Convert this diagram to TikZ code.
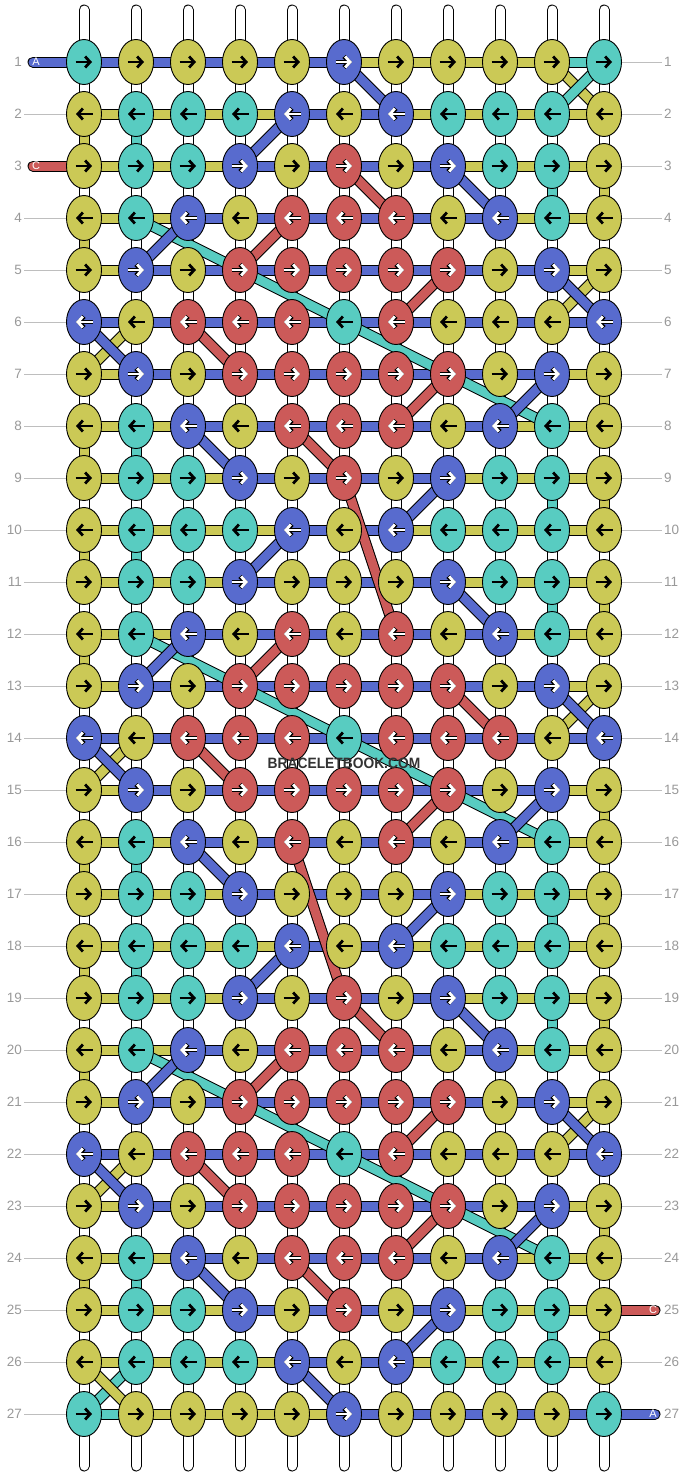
\documentclass[tikz,border=0pt]{standalone}
\usepackage{fontspec}
\setmainfont{Liberation Sans}
\usetikzlibrary{shapes.geometric,arrows.meta,backgrounds}
\definecolor{cY}{RGB}{203,201,86}
\definecolor{cT}{RGB}{88,204,193}
\definecolor{cB}{RGB}{88,107,206}
\definecolor{cR}{RGB}{204,90,89}
\definecolor{lblgray}{RGB}{153,153,153}
\definecolor{linegray}{RGB}{190,190,190}
\tikzset{
  knot/.style={ellipse, draw=black, line width=0.9pt, minimum width=35pt, minimum height=45pt, inner sep=0pt},
  arrbase/.style={line width=2.8pt, -{Straight Barb[length=5pt,width=11pt]}},
  arrY/.style={arrbase, draw=black},
  arrT/.style={arrbase, draw=black},
  arrB/.style={arrbase, draw=white, preaction={draw=black, line width=4.4pt}},
  arrR/.style={arrB},
  lbl/.style={font=\fontsize{13.5}{13.5}\selectfont, text=lblgray, inner sep=2pt},
  gline/.style={draw=linegray, line width=1pt},
  stubtxt/.style={font=\fontsize{11}{11}\selectfont, text=white, inner sep=0pt},
}
\newcommand\strandband[3]{%
  \draw[black, line width=11pt] (#2) -- (#3);
  \draw[#1, line width=9pt] (#2) -- (#3);}
\def\nodedata{%
{T,Y,Y,Y,Y,B,Y,Y,Y,Y,T},
{Y,T,T,T,B,Y,B,T,T,T,Y},
{Y,T,T,B,Y,R,Y,B,T,T,Y},
{Y,T,B,Y,R,R,R,Y,B,T,Y},
{Y,B,Y,R,R,R,R,R,Y,B,Y},
{B,Y,R,R,R,T,R,Y,Y,Y,B},
{Y,B,Y,R,R,R,R,R,Y,B,Y},
{Y,T,B,Y,R,R,R,Y,B,T,Y},
{Y,T,T,B,Y,R,Y,B,T,T,Y},
{Y,T,T,T,B,Y,B,T,T,T,Y},
{Y,T,T,B,Y,Y,Y,B,T,T,Y},
{Y,T,B,Y,R,Y,R,Y,B,T,Y},
{Y,B,Y,R,R,R,R,R,Y,B,Y},
{B,Y,R,R,R,T,R,R,R,Y,B},
{Y,B,Y,R,R,R,R,R,Y,B,Y},
{Y,T,B,Y,R,Y,R,Y,B,T,Y},
{Y,T,T,B,Y,Y,Y,B,T,T,Y},
{Y,T,T,T,B,Y,B,T,T,T,Y},
{Y,T,T,B,Y,R,Y,B,T,T,Y},
{Y,T,B,Y,R,R,R,Y,B,T,Y},
{Y,B,Y,R,R,R,R,R,Y,B,Y},
{B,Y,R,R,R,T,R,Y,Y,Y,B},
{Y,B,Y,R,R,R,R,R,Y,B,Y},
{Y,T,B,Y,R,R,R,Y,B,T,Y},
{Y,T,T,B,Y,R,Y,B,T,T,Y},
{Y,T,T,T,B,Y,B,T,T,T,Y},
{T,Y,Y,Y,Y,B,Y,Y,Y,Y,T}}
\def\hordata{%
{B,B,B,B,B,Y,Y,Y,Y,T},
{Y,Y,Y,Y,B,B,Y,Y,Y,Y},
{Y,Y,Y,B,B,B,B,Y,Y,Y},
{Y,Y,B,B,B,B,B,B,Y,Y},
{Y,B,B,B,B,B,B,B,B,Y},
{B,B,B,B,B,B,B,B,B,B},
{Y,B,B,B,B,B,B,B,B,Y},
{Y,Y,B,B,B,B,B,B,Y,Y},
{Y,Y,Y,B,B,B,B,Y,Y,Y},
{Y,Y,Y,Y,B,B,Y,Y,Y,Y},
{Y,Y,Y,B,B,B,B,Y,Y,Y},
{Y,Y,B,B,B,B,B,B,Y,Y},
{Y,B,B,B,B,B,B,B,B,Y},
{B,B,B,B,B,B,B,B,B,B},
{Y,B,B,B,B,B,B,B,B,Y},
{Y,Y,B,B,B,B,B,B,Y,Y},
{Y,Y,Y,B,B,B,B,Y,Y,Y},
{Y,Y,Y,Y,B,B,Y,Y,Y,Y},
{Y,Y,Y,B,B,B,B,Y,Y,Y},
{Y,Y,B,B,B,B,B,B,Y,Y},
{Y,B,B,B,B,B,B,B,B,Y},
{B,B,B,B,B,B,B,B,B,B},
{Y,B,B,B,B,B,B,B,B,Y},
{Y,Y,B,B,B,B,B,B,Y,Y},
{Y,Y,Y,B,B,B,B,Y,Y,Y},
{Y,Y,Y,Y,B,B,Y,Y,Y,Y},
{T,Y,Y,Y,Y,B,B,B,B,B}}
\begin{document}
\begin{tikzpicture}[x=1pt,y=-1pt]
\useasboundingbox (0,0) rectangle (688,1476);
% knots and their arrows
\foreach \N [count=\r] in \nodedata {
  \foreach \k [count=\c] in \N {
    \node[knot, fill=c\k] (n-\r-\c) at ({84+52*(\c-1)},{62+52*(\r-1)}) {};
    \ifodd\r\relax
      \draw[arr\k] ([xshift=-8.5pt]n-\r-\c.center) -- ([xshift=8pt]n-\r-\c.center);
    \else
      \draw[arr\k] ([xshift=8.5pt]n-\r-\c.center) -- ([xshift=-8pt]n-\r-\c.center);
    \fi
  }
}
% row labels
\foreach \r in {1,...,27}{
  \pgfmathsetmacro\yy{62+52*(\r-1)}
  \node[lbl, anchor=east] (L-\r) at (24,\yy) {\r};
  \node[lbl, anchor=west] (R-\r) at (662,\yy) {\r};
}
% string ends
\coordinate (sL1) at (33,62);
\coordinate (sL3) at (33,166);
\coordinate (sR25) at (655,1310);
\coordinate (sR27) at (655,1414);
\node[stubtxt] (tL1) at (36,62) {A};
\node[stubtxt] (tL3) at (36,166) {C};
\node[stubtxt] (tR25) at (653,1310) {C};
\node[stubtxt] (tR27) at (653,1414) {A};
% watermark
\node[font=\fontsize{15}{15}\selectfont\bfseries, text=black!80, inner sep=1pt] (wm) at (344,763) {\scalebox{0.92}[1]{BRACELETBOOK.COM}};

\begin{pgfonlayer}{background}
\fill[white] (0,0) rectangle (688,1476);
% white warp strings
\foreach \c in {1,...,11}{
  \coordinate (top-\c) at ({84+52*(\c-1)},10);
  \coordinate (bot-\c) at ({84+52*(\c-1)},1466);
  \draw[black, line width=11pt, line cap=round] (top-\c) -- (bot-\c);
  \draw[white, line width=9pt, line cap=round] (top-\c) -- (bot-\c);
}
% label lines
\foreach \r in {1,...,27}{
  \ifnum\r=1 \else\ifnum\r=3 \else
    \draw[gline] (L-\r.east) -- (n-\r-1.west);
  \fi\fi
  \ifnum\r=25 \else\ifnum\r=27 \else
    \draw[gline] (n-\r-11.east) -- (R-\r.west);
  \fi\fi
}
% vertical coloured segments
\foreach \r/\c/\k in {2/1/Y,2/2/T,3/10/T,3/11/Y,4/1/Y,7/11/Y,8/1/Y,8/2/T,9/10/T,9/11/Y,
  10/1/Y,10/2/T,11/10/T,11/11/Y,12/1/Y,15/11/Y,16/1/Y,16/2/T,17/10/T,17/11/Y,
  18/1/Y,18/2/T,19/10/T,19/11/Y,20/1/Y,23/11/Y,24/1/Y,24/2/T,25/10/T,25/11/Y}{
  \pgfmathtruncatemacro\rn{\r+1}
  \strandband{c\k}{n-\r-\c.center}{n-\rn-\c.center}
}
% horizontal segments
\foreach \H [count=\r] in \hordata {
  \foreach \k [count=\c] in \H {
    \pgfmathtruncatemacro\cn{\c+1}
    \strandband{c\k}{n-\r-\c.center}{n-\r-\cn.center}
  }
}
% diagonal strands
\foreach \k/\ra/\ca/\rb/\cb in {T/4/2/8/10,T/12/2/16/10,T/20/2/24/10,
  Y/1/10/2/11,T/1/11/2/10,
  B/1/6/2/7,B/2/5/3/4,R/3/6/4/7,B/3/8/4/9,B/4/3/5/2,R/4/5/5/4,
  R/5/8/6/7,Y/5/11/6/10,B/5/10/6/11,Y/6/2/7/1,B/6/1/7/2,R/6/3/7/4,
  R/7/8/8/7,B/7/10/8/9,B/8/3/9/4,R/8/5/9/6,R/9/6/12/7,B/9/8/10/7,
  B/10/5/11/4,B/11/8/12/9,B/12/3/13/2,R/12/5/13/4,
  R/13/8/14/9,Y/13/11/14/10,B/13/10/14/11,Y/14/2/15/1,B/14/1/15/2,R/14/3/15/4,
  R/15/8/16/7,B/15/10/16/9,B/16/3/17/4,R/16/5/19/6,B/17/8/18/7,
  B/18/5/19/4,R/19/6/20/7,B/19/8/20/9,B/20/3/21/2,R/20/5/21/4,
  R/21/8/22/7,Y/21/11/22/10,B/21/10/22/11,Y/22/2/23/1,B/22/1/23/2,R/22/3/23/4,
  R/23/8/24/7,B/23/10/24/9,B/24/3/25/4,R/24/5/25/6,B/25/8/26/7,
  T/26/2/27/1,Y/26/1/27/2,B/26/5/27/6}{
  \strandband{c\k}{n-\ra-\ca.center}{n-\rb-\cb.center}
}
% added strings A and C
\draw[black, line width=11pt, line cap=round] (sL1) -- (n-1-1.center);
\draw[cB, line width=9pt, line cap=round] (sL1) -- (n-1-1.center);
\draw[black, line width=11pt, line cap=round] (sL3) -- (n-3-1.center);
\draw[cR, line width=9pt, line cap=round] (sL3) -- (n-3-1.center);
\draw[black, line width=11pt, line cap=round] (n-25-11.center) -- (sR25);
\draw[cR, line width=9pt, line cap=round] (n-25-11.center) -- (sR25);
\draw[black, line width=11pt, line cap=round] (n-27-11.center) -- (sR27);
\draw[cB, line width=9pt, line cap=round] (n-27-11.center) -- (sR27);
\end{pgfonlayer}
\end{tikzpicture}
\end{document}
